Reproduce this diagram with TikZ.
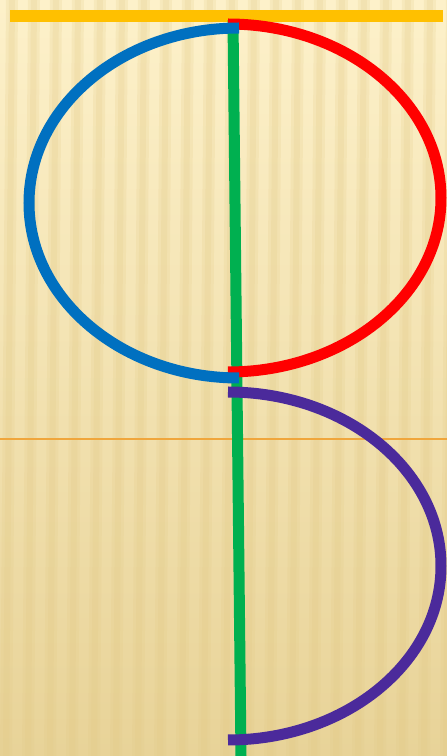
\documentclass[tikz,border=0pt]{standalone}
\usepackage{xcolor}
\usepackage{tikz}

\definecolor{barYellow}{HTML}{FFC000}
\definecolor{stemGreen}{HTML}{00B050}
\definecolor{loopBlue}{HTML}{0070C0}
\definecolor{loopRed}{HTML}{FF0000}
\definecolor{bowlPurple}{HTML}{4B2A9B}
\definecolor{ruleOrange}{HTML}{F0A63C}
\definecolor{paperTop}{HTML}{FDF1CA}
\definecolor{paperMid}{HTML}{FAEBC0}
\definecolor{paperBot}{HTML}{E8D398}
\definecolor{stripeTan}{HTML}{E2C985}

\begin{document}
\begin{tikzpicture}[
    x=1pt, y=1pt,
    stroke/.style={line width=11pt},
    stripe/.style={fill=stripeTan, opacity=0.2}
]
\useasboundingbox (0,0) rectangle (447,756);

% paper background
\shade [top color=paperTop, middle color=paperMid, bottom color=paperBot] (0,0) rectangle (447,756);
\foreach \i in {0,...,20} {
    \fill [stripe] ({\i*22},0) -- ({\i*22+12},0) -- ({\i*22+18},756) -- ({\i*22+6},756) -- cycle;
    \fill [stripe] ({\i*22+3},0) -- ({\i*22+9},0) -- ({\i*22+15},756) -- ({\i*22+9},756) -- cycle;
}

% reference points
\coordinate (bar west) at (10,740);
\coordinate (bar east) at (443,740);
\coordinate (rule west) at (0,317);
\coordinate (rule east) at (447,317);
\coordinate (stem top) at (233,736);
\coordinate (stem bottom) at (241,0);
\coordinate (blue top) at (239,728);
\coordinate (red top) at (228,732);
\coordinate (purple top) at (228,364);

\draw [barYellow, line width=12pt] (bar west) -- (bar east);
\draw [ruleOrange, line width=2pt] (rule west) -- (rule east);
\draw [stroke, stemGreen] (stem top) -- (stem bottom);

% upper loop
\draw [stroke, loopRed] (red top) arc [start angle=90, end angle=-90, x radius=213, y radius=174];
\draw [stroke, loopBlue] (blue top) arc [start angle=90, end angle=270, x radius=210, y radius=175];

% lower bowl
\draw [stroke, bowlPurple] (purple top) arc [start angle=90, end angle=-90, x radius=213, y radius=174];

\end{tikzpicture}
\end{document}
